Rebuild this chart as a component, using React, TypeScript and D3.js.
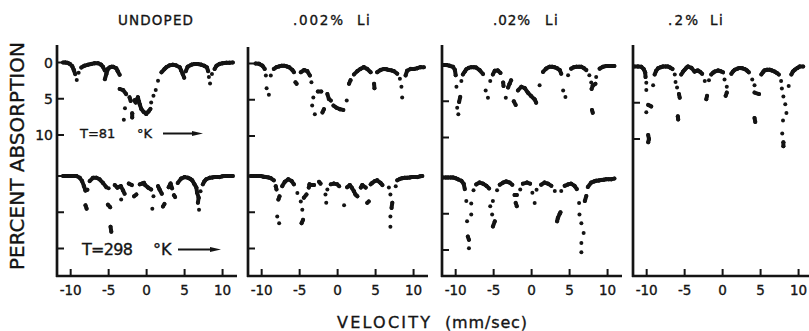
import React from "react";
import * as d3 from "d3";

type Pt = [number, number];

// ---------- data (velocity mm/s, percent absorption) ----------
const panelTitles = ["UNDOPED", ".002%", ".02%", ".2%"];
const xTickValues = [-10, -5, 0, 5, 10];
const xTickLabels = ["-10", "-5", "0", "5", "10"];
const yTickValues = [0, 5, 10];
const yTickLabels = ["0", "5", "10"];

const undoped81: Pt[] = [
  [-11.0, 0], [-10.7, 0], [-10.4, 0.05], [-10.1, 0.2], [-9.8, 0.5], [-9.6, 1.0], [-9.4, 1.6], [-9.2, 2.4],
  [-8.95, 1.4], [-8.6, 0.7], [-8.2, 0.45], [-7.7, 0.3], [-7.3, 0.2], [-6.85, 0.1], [-6.4, 0.1], [-6.0, 0.3],
  [-5.75, 0.6], [-5.5, 1.1], [-5.5, 2.3], [-5.3, 1.6], [-5.1, 0.9], [-4.9, 0.7], [-4.65, 0.6], [-4.4, 0.6],
  [-4.0, 0.8], [-3.8, 1.2], [-3.55, 1.7],
  [-3.55, 3.65], [-3.1, 3.8], [-2.7, 4.35], [-2.85, 6.3], [-3.0, 7.9], [-2.25, 4.8], [-2.1, 5.3], [-1.9, 7.0],
  [-1.9, 7.6], [-1.6, 5.2], [-1.45, 5.5], [-1.15, 4.8], [-1.0, 5.4], [-0.9, 5.8], [-0.7, 6.4], [-0.4, 6.8],
  [-0.05, 7.1], [0.25, 6.75], [0.5, 6.4], [0.6, 5.5], [0.9, 4.6], [1.2, 3.8], [1.5, 2.5], [1.95, 1.35],
  [2.35, 0.9], [2.6, 0.65], [3.0, 0.4], [3.45, 0.3], [3.9, 0.4], [4.35, 0.65], [4.55, 1.1], [4.75, 1.6],
  [4.95, 2.1], [5.15, 1.2], [5.4, 0.6], [5.9, 0.3], [6.3, 0.2], [6.75, 0.2], [7.2, 0.3], [7.6, 0.45],
  [7.95, 0.7], [8.1, 1.2], [8.2, 2.0], [8.35, 2.9], [8.6, 1.6], [8.95, 0.9], [9.2, 0.45], [9.6, 0.2],
  [10.0, 0.1], [10.5, 0.05], [10.9, 0.05], [11.35, 0],
];

const li002at81: Pt[] = [
  [-10.8, 0], [-10.35, 0.05], [-9.9, 0.3], [-9.6, 0.75], [-9.45, 1.65], [-9.35, 3.4], [-9.05, 4.3],
  [-8.8, 1.65], [-8.4, 0.75], [-8.05, 0.5], [-7.7, 0.4], [-7.35, 0.3], [-7.05, 0.3], [-6.7, 0.4], [-6.4, 0.5],
  [-5.95, 0.9], [-5.75, 1.2], [-5.55, 2.6], [-5.4, 2.8], [-4.85, 1.2], [-4.4, 0.9], [-4.0, 1.05], [-3.65, 1.65],
  [-3.45, 2.6],
  [-3.2, 4.7], [-2.6, 3.85], [-2.15, 3.85], [-3.35, 5.8], [-3.0, 7.0], [-2.0, 6.75], [-1.8, 6.3], [-1.35, 4.2],
  [-1.15, 4.9], [-0.9, 5.1], [-0.55, 5.8], [-0.15, 6.1], [0.3, 6.3], [0.75, 6.4], [1.2, 5.1], [1.5, 2.8],
  [1.7, 2.3], [2.15, 1.5], [2.6, 1.05], [3.0, 0.75], [3.45, 0.5], [3.9, 0.75], [4.35, 1.2], [4.8, 2.8],
  [4.85, 3.4], [5.2, 1.2], [5.65, 0.9], [6.1, 0.75], [6.45, 0.8], [6.75, 0.9], [7.1, 0.95], [7.4, 1.05],
  [7.85, 1.4], [8.2, 2.1], [8.4, 3.2], [8.5, 4.7], [8.95, 1.65], [9.15, 1.0], [9.6, 0.75], [10.05, 0.75],
  [10.5, 0.65], [10.9, 0.5], [11.35, 0.5],
];

const li02at81: Pt[] = [
  [-11.65, 0], [-11.2, 0], [-10.8, 0.1], [-10.35, 0.25], [-10.1, 0.7], [-10.0, 1.4], [-9.9, 3.0], [-9.4, 4.4],
  [-9.55, 5.1], [-9.8, 5.9], [-9.65, 6.8], [-9.25, 2.2], [-9.05, 1.3], [-8.8, 0.9], [-8.6, 0.6], [-8.3, 0.4],
  [-7.95, 0.3], [-7.6, 0.3], [-7.3, 0.35], [-6.85, 0.7], [-6.4, 1.25], [-6.05, 3.5], [-5.75, 4.5], [-5.45, 2.2],
  [-5.1, 1.3], [-4.85, 0.8], [-4.45, 0.75], [-4.1, 1.1], [-3.75, 2.4], [-3.7, 2.9], [-3.4, 4.5], [-3.1, 3.1],
  [-2.9, 2.6], [-2.7, 2.1], [-2.35, 5.0], [-2.1, 5.5], [-1.8, 3.5], [-1.35, 3.0], [-0.9, 3.2], [-0.5, 3.8],
  [-0.05, 4.3], [0.4, 4.75], [0.6, 5.2], [1.05, 2.8], [1.5, 0.95], [1.9, 0.5], [2.35, 0.25], [2.7, 0.25],
  [3.0, 0.3], [3.35, 0.45], [3.7, 0.7], [3.9, 1.2], [4.15, 3.5], [4.45, 4.4], [4.8, 1.4], [5.2, 0.5],
  [5.55, 0.3], [5.9, 0.25], [6.25, 0.25], [6.55, 0.25], [6.9, 0.45], [7.2, 0.7], [7.6, 1.4], [7.85, 2.4],
  [7.9, 3.3], [8.05, 2.85], [8.4, 2.6], [7.95, 6.2], [8.05, 6.6], [8.5, 1.65], [8.95, 0.5], [9.4, 0.25],
  [9.8, 0.15], [10.3, 0.15], [10.9, 0.15],
];

const li2at81: Pt[] = [
  [-11.6, 0], [-11.15, 0], [-10.7, 0.05], [-10.4, 0.35], [-10.2, 0.8], [-10.15, 1.45], [-10.05, 2.25],
  [-10.05, 3.25], [-9.15, 2.6], [-9.8, 5.3], [-9.4, 5.5], [-10.05, 6.3], [-9.8, 9.45], [-9.7, 10.0],
  [-9.8, 10.45], [-8.95, 1.1], [-8.75, 0.6], [-8.5, 0.25], [-8.15, 0.1], [-7.85, 0], [-7.5, 0], [-7.2, 0],
  [-6.9, 0.15], [-6.6, 0.35], [-6.3, 1.1], [-6.2, 2.15], [-6.0, 2.9], [-5.75, 3.8], [-5.65, 4.3], [-5.9, 6.85],
  [-5.85, 7.3], [-5.45, 1.1], [-5.2, 0.7], [-5.0, 0.45], [-4.75, 0.15], [-4.55, 0], [-4.1, 0.2], [-3.7, 0.7],
  [-3.45, 0.6], [-3.25, 0.55], [-2.95, 0.75], [-2.7, 1.0], [-2.35, 2.0], [-2.05, 4.05], [-2.15, 4.5],
  [-1.8, 1.9], [-1.5, 1.1], [-1.25, 0.85], [-1.05, 0.7], [-0.6, 0.55], [-0.25, 0.65], [0.05, 0.8], [0.25, 1.8],
  [0.55, 2.8], [0.55, 3.6], [0.4, 4.05], [1.15, 1.0], [1.35, 0.7], [1.6, 0.45], [1.95, 0.3], [2.25, 0.2],
  [2.6, 0.25], [2.9, 0.35], [3.2, 0.55], [3.45, 0.8], [3.9, 1.8], [4.2, 2.6], [4.2, 3.6], [4.8, 3.8],
  [4.2, 7.1], [4.3, 7.65], [5.1, 1.1], [5.3, 0.8], [5.5, 0.55], [5.85, 0.45], [6.2, 0.45], [6.5, 0.55],
  [6.85, 0.7], [7.15, 0.9], [7.4, 1.1], [7.7, 2.0], [7.8, 3.05], [8.0, 4.15], [8.25, 5.2], [8.4, 6.4],
  [7.95, 7.45], [7.85, 9.25], [8.0, 10.45], [8.0, 11.0], [8.7, 2.7], [9.05, 1.1], [9.25, 0.7], [9.5, 0.45],
  [9.85, 0.2], [10.15, 0], [10.6, 0],
];

const undoped298: Pt[] = [
  [-11.0, 0], [-10.6, 0], [-10.2, 0], [-9.7, 0], [-9.25, 0], [-8.8, 0.25], [-8.5, 0.7], [-8.25, 1.4],
  [-8.05, 2.0], [-7.8, 1.9], [-8.05, 4.05], [-7.9, 4.5], [-7.5, 0.7], [-7.05, 0.25], [-6.6, 0.25], [-6.2, 0.45],
  [-5.75, 0.95], [-5.3, 1.55], [-5.1, 3.95], [-4.8, 4.3], [-4.75, 7.0], [-4.65, 7.7], [-5.0, 1.7], [-4.2, 1.25],
  [-3.85, 1.6], [-3.4, 1.4], [-3.1, 2.0], [-2.9, 2.45], [-3.35, 3.25], [-2.35, 1.05], [-1.95, 1.25],
  [-1.65, 2.8], [-1.35, 2.55], [-0.9, 1.15], [-0.6, 1.05], [-0.35, 0.95], [-0.2, 1.25], [0.2, 1.6], [0.6, 1.85],
  [0.9, 2.8], [0.75, 4.5], [1.5, 1.4], [1.7, 1.85], [2.0, 2.45], [2.15, 4.2], [2.35, 3.85], [2.9, 1.55],
  [3.15, 1.05], [3.35, 1.7], [3.6, 2.65], [3.75, 2.9], [4.1, 0.95], [4.55, 0.35], [5.0, 0.15], [5.45, 0.25],
  [5.75, 0.4], [6.0, 0.6], [6.3, 1.15], [6.55, 1.6], [6.65, 2.3], [6.85, 3.0], [6.75, 3.7], [6.9, 4.65],
  [7.1, 2.1], [7.4, 1.15], [7.6, 0.75], [7.85, 0.45], [8.3, 0.25], [8.65, 0.2], [8.95, 0.15], [9.3, 0.15],
  [9.6, 0.15], [9.95, 0.05], [10.25, 0], [10.6, 0], [10.9, 0], [11.35, 0],
];

const li002at298: Pt[] = [
  [-11.45, 0], [-11.1, 0], [-10.8, 0], [-10.45, 0], [-10.1, 0], [-9.75, 0.1], [-9.45, 0.15], [-9.1, 0.2],
  [-8.8, 0.3], [-8.4, 0.6], [-8.15, 1.4], [-8.05, 1.85], [-7.65, 2.8], [-7.8, 3.25], [-7.95, 5.6], [-7.7, 6.5],
  [-7.3, 1.4], [-6.95, 0.8], [-6.5, 0.45], [-6.05, 0.7], [-5.75, 1.15], [-5.3, 2.35], [-4.85, 3.5],
  [-4.65, 4.65], [-4.75, 6.5], [-4.55, 6.05], [-4.45, 3.0], [-4.1, 2.55], [-3.8, 1.6], [-3.7, 1.15],
  [-3.4, 1.25], [-3.1, 1.25], [-2.45, 0.8], [-2.25, 1.05], [-1.6, 2.55], [-1.5, 3.7], [-1.35, 1.85],
  [-0.9, 1.15], [-0.5, 1.05], [-0.05, 1.15], [0.2, 1.4], [0.85, 4.05], [1.25, 1.55], [1.6, 1.25], [1.85, 1.6],
  [2.15, 2.1], [2.35, 2.55], [2.6, 2.8], [3.05, 1.6], [3.25, 1.25], [3.7, 1.6], [3.9, 3.7], [4.1, 3.5],
  [4.35, 1.15], [4.55, 0.95], [4.9, 0.7], [5.2, 0.6], [5.65, 0.95], [5.9, 1.25], [6.75, 1.6], [6.95, 2.55],
  [7.2, 3.7], [7.1, 4.4], [6.95, 5.6], [6.95, 7.0], [7.65, 1.4], [7.85, 0.6], [8.2, 0.4], [8.5, 0.3],
  [8.85, 0.25], [9.15, 0.25], [9.5, 0.2], [9.8, 0.15], [10.15, 0.15], [10.5, 0.15], [10.85, 0.05], [11.15, 0],
];

const li02at298: Pt[] = [
  [-11.65, 0], [-11.3, 0], [-11.0, 0], [-10.65, 0], [-10.35, 0], [-10.0, 0.1], [-9.7, 0.25], [-9.25, 0.45],
  [-8.95, 0.85], [-8.8, 1.6], [-8.6, 3.25], [-8.5, 6.05], [-8.4, 8.15], [-8.25, 8.6], [-8.25, 9.75],
  [-7.95, 3.6], [-7.95, 5.1], [-7.65, 1.75], [-7.3, 0.95], [-6.85, 0.7], [-6.4, 0.85], [-5.95, 1.15],
  [-5.6, 1.5], [-5.45, 3.95], [-5.1, 3.25], [-5.2, 5.1], [-4.85, 6.05], [-5.1, 6.75], [-4.55, 1.75],
  [-4.2, 1.0], [-3.75, 0.7], [-3.35, 0.55], [-2.9, 0.7], [-2.55, 1.0], [-2.25, 2.4], [-1.95, 2.4], [-2.1, 3.5],
  [-1.95, 3.95], [-1.5, 1.65], [-1.15, 0.85], [-0.6, 0.7], [-0.2, 0.85], [0.1, 2.1], [0.4, 3.5], [0.65, 1.7],
  [1.25, 1.0], [1.7, 0.7], [2.15, 0.85], [2.6, 1.15], [3.05, 1.85], [3.35, 6.05], [3.45, 5.6], [3.7, 5.0],
  [3.8, 4.8], [3.9, 1.85], [4.35, 1.15], [4.8, 0.95], [5.2, 0.85], [5.65, 1.15], [5.95, 1.6], [6.25, 3.5],
  [6.3, 5.1], [6.55, 6.3], [6.55, 9.05], [6.55, 10.3], [6.85, 7.65], [7.0, 3.25], [7.2, 2.55], [7.4, 1.3],
  [7.85, 0.7], [8.2, 0.55], [8.5, 0.45], [8.85, 0.4], [9.15, 0.35], [9.5, 0.3], [9.8, 0.25], [10.15, 0.25],
  [10.5, 0.25], [10.9, 0.15],
];

// ---------- layout ----------
const W = 809;
const H = 331;
const PANEL_LEFT = [57, 248, 442, 633];
const PANEL_W = 180;
const X_DOMAIN: [number, number] = [-11.8, 11.9];
const ROW_ZERO = [
  [62.5, 176],
  [63.5, 176],
  [65, 177.5],
  [66.5, 178],
];
const PX_PER_PCT = 7.25;
const AXIS_TOP = [45, 47, 45, 45];
const AXIS_BOTTOM = 276;
const INK = "#141414";
const FONT = "'DejaVu Sans', Arial, sans-serif";
const TXT = { fill: INK, stroke: INK, strokeWidth: 0.35 };

const spectra = [
  { panel: 0, row: 0, data: undoped81 },
  { panel: 1, row: 0, data: li002at81 },
  { panel: 2, row: 0, data: li02at81 },
  { panel: 3, row: 0, data: li2at81 },
  { panel: 0, row: 1, data: undoped298 },
  { panel: 1, row: 1, data: li002at298 },
  { panel: 2, row: 1, data: li02at298 },
];

const titleLayout = [
  { x: 118, len: 75, li: null as number | null },
  { x: 293, len: 50, li: 357 },
  { x: 493, len: 37, li: 545 },
  { x: 668, len: 30, li: 710 },
];

function xScaleFor(p: number) {
  return d3.scaleLinear().domain(X_DOMAIN).range([PANEL_LEFT[p], PANEL_LEFT[p] + PANEL_W]);
}
function yScaleFor(p: number, r: number) {
  const z = ROW_ZERO[p][r];
  return d3.scaleLinear().domain([0, 10]).range([z, z + 10 * PX_PER_PCT]);
}

function Arrow({ x1, x2, y }: { x1: number; x2: number; y: number }) {
  return (
    <g>
      <line x1={x1} x2={x2 - 8} y1={y} y2={y} stroke={INK} strokeWidth={2} />
      <polygon points={`${x2},${y} ${x2 - 11},${y - 2.6} ${x2 - 11},${y + 2.6}`} fill={INK} />
    </g>
  );
}

export default function App() {
  return (
    <svg
      width={W}
      height={H}
      viewBox={`0 0 ${W} ${H}`}
      style={{ position: "absolute", left: 0, top: 0, background: "#fff" }}
      fontFamily={FONT}
    >
      <rect width={W} height={H} fill="#fff" />
      {/* titles */}
      {panelTitles.map((t, i) => {
        const L = titleLayout[i];
        return (
          <g key={t}>
            <text x={L.x} y={24.5} fontSize={13.5} {...TXT} textLength={L.len} lengthAdjust="spacing">
              {t}
            </text>
            {L.li !== null && (
              <text x={L.li} y={24.5} fontSize={13.5} {...TXT} letterSpacing={1.5}>
                Li
              </text>
            )}
          </g>
        );
      })}

      {/* axes */}
      {PANEL_LEFT.map((left, p) => {
        const xs = xScaleFor(p);
        const right = Math.min(left + PANEL_W, W);
        return (
          <g key={p}>
            <line x1={left} x2={left} y1={AXIS_TOP[p]} y2={AXIS_BOTTOM + 1} stroke={INK} strokeWidth={2.7} />
            <line x1={left - 1} x2={right} y1={AXIS_BOTTOM} y2={AXIS_BOTTOM} stroke={INK} strokeWidth={2.7} />
            {xTickValues.map((v, k) => (
              <g key={v}>
                <line x1={xs(v)} x2={xs(v)} y1={AXIS_BOTTOM} y2={AXIS_BOTTOM - 7} stroke={INK} strokeWidth={2} />
                <text x={xs(v)} y={295} fontSize={13.5} textAnchor="middle" {...TXT}>
                  {xTickLabels[k]}
                </text>
              </g>
            ))}
            {[0, 1].map((r) => {
              if (p === 3 && r === 1) return null;
              const ys = yScaleFor(p, r);
              return yTickValues.map((t) => (
                <line key={`${r}-${t}`} x1={left} x2={left + 7} y1={ys(t)} y2={ys(t)} stroke={INK} strokeWidth={2} />
              ));
            })}
          </g>
        );
      })}

      {/* y tick labels, first panel top row */}
      {yTickValues.map((t, k) => (
        <text key={t} x={53} y={yScaleFor(0, 0)(t) + 5} fontSize={14} textAnchor="end" {...TXT}>
          {yTickLabels[k]}
        </text>
      ))}

      {/* spectra */}
      {spectra.map((s, i) => {
        const xs = xScaleFor(s.panel);
        const ys = yScaleFor(s.panel, s.row);
        const pts = s.data.map(([v, a]) => [xs(v), ys(a)] as [number, number]);
        const segs: [number, number, number, number][] = [];
        for (let k = 1; k < pts.length; k++) {
          const [x0, y0] = pts[k - 1];
          const [x1, y1] = pts[k];
          if (Math.hypot(x1 - x0, y1 - y0) <= 5.6) segs.push([x0, y0, x1, y1]);
        }
        return (
          <g key={i}>
            {segs.map(([a, b, c, d], k) => (
              <line key={k} x1={a} y1={b} x2={c} y2={d} stroke={INK} strokeWidth={4} strokeLinecap="round" />
            ))}
            {pts.map(([x, y], k) => (
              <circle key={k} cx={x} cy={y} r={2} fill={INK} />
            ))}
          </g>
        );
      })}

      {/* temperature annotations */}
      <text x={80} y={138} fontSize={13} {...TXT}>T=81</text>
      <text x={137} y={138} fontSize={13} {...TXT}>°K</text>
      <Arrow x1={163} x2={203} y={133.5} />
      <text x={82} y={255} fontSize={16} {...TXT} textLength={51} lengthAdjust="spacing">T=298</text>
      <text x={153} y={255} fontSize={16} {...TXT}>°K</text>
      <Arrow x1={178} x2={221} y={249.5} />

      {/* axis labels */}
      <text
        transform="translate(24,156) rotate(-90)"
        fontSize={20}
        textAnchor="middle"
        {...TXT}
        textLength={228}
        lengthAdjust="spacing"
      >
        PERCENT ABSORPTION
      </text>
      <text x={337} y={328} fontSize={16} {...TXT} textLength={93} lengthAdjust="spacing">VELOCITY</text>
      <text x={445} y={328} fontSize={16} {...TXT} textLength={82} lengthAdjust="spacing">(mm/sec)</text>
    </svg>
  );
}
